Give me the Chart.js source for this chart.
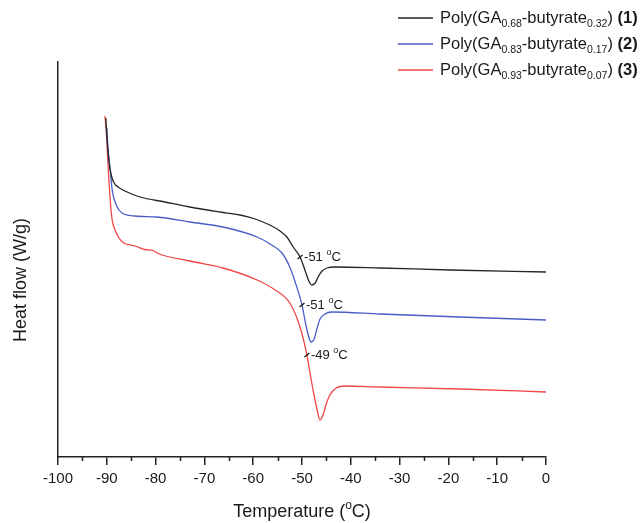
<!DOCTYPE html>
<html>
<head>
<meta charset="utf-8">
<script src="https://cdn.jsdelivr.net/npm/chart.js@4.4.1/dist/chart.umd.min.js"></script>
<style>
body { margin: 0; background: #fff; }
</style>
</head>
<body>
<canvas id="dscChart" width="640" height="523"></canvas>
<script>
const FONT = "'Liberation Sans', Arial, sans-serif";

// DSC traces (temperature in °C, heat flow in arbitrary units, endo down)
const temp1 = [-90.2, -90.0, -89.6, -89.1, -88.5, -87.7, -86.3, -83.2, -78.1, -73.0, -66.8, -62.7, -59.6, -56.6, -54.5, -53.1, -51.8, -50.4, -49.4, -48.6, -48.0, -47.3, -46.7, -45.9, -44.9, -43.2, -34.0, -19.7, 0];
const flow1 = [339, 322, 297, 282, 274, 270, 266, 260, 255, 250, 245, 242, 238, 232, 226, 220, 210, 200, 187, 176, 172, 174, 180, 186, 189, 190, 189, 187, 185];

const temp2 = [-90.0, -89.8, -89.3, -88.9, -88.3, -87.5, -86.5, -84.2, -79.7, -73.0, -66.2, -59.2, -56.2, -54.1, -52.5, -51.4, -50.0, -49.2, -48.6, -48.2, -47.5, -46.9, -46.3, -45.3, -43.9, -34.0, -17.6, 0];
const flow2 = [329, 312, 287, 267, 255, 247, 243, 241, 240, 235, 230, 220, 212, 204, 190, 175, 152, 132, 120, 115, 118, 129, 138, 143, 145, 143, 140, 137];

const temp3 = [-90.4, -90.2, -90.0, -89.8, -89.3, -88.9, -88.3, -87.5, -86.5, -84.2, -82.2, -81.2, -80.5, -79.7, -73.0, -66.2, -59.2, -55.5, -52.5, -50.4, -49.0, -48.0, -46.9, -46.3, -45.7, -45.1, -44.3, -43.0, -41.2, -34.0, -17.6, 0];
const flow3 = [341, 332, 317, 297, 257, 237, 227, 219, 214, 211, 207.5, 207, 206.5, 204, 196, 189, 177, 167, 154, 130, 102, 74, 47, 37, 42, 52, 62, 69, 71, 70, 68, 65];

const gaFractions = ["0.68", "0.83", "0.93"];
const butyrateFractions = ["0.32", "0.17", "0.07"];
const sampleNumbers = ["1", "2", "3"];
const seriesColors = ["#262626", "#4a5ec6", "#f24646"];

// glass transition onsets marked on each trace
const onsetTemps = [-50.4, -50.0, -49.0];
const onsetFlows = [200, 152, 102];
const onsetLabels = ["-51", "-51", "-49"];

const xMin = -100;
const xMax = 0;
const xStep = 10;
const yMin = 0;
const yMax = 395;

function toPoints(xs, ys) {
    return xs.map((x, i) => ({ x: x, y: ys[i] }));
}

// draws a row of text pieces, each with its own size, weight and shift
function drawRuns(ctx, x, y, runs) {
    let cursor = x;
    runs.forEach(run => {
        ctx.font = `${run.bold ? "bold " : ""}${run.size}px ${FONT}`;
        ctx.fillText(run.text, cursor, y + (run.dy || 0));
        cursor += ctx.measureText(run.text).width;
    });
    return cursor - x;
}

function measureRuns(ctx, runs) {
    let w = 0;
    runs.forEach(run => {
        ctx.font = `${run.bold ? "bold " : ""}${run.size}px ${FONT}`;
        w += ctx.measureText(run.text).width;
    });
    return w;
}

const decorations = {
    id: "decorations",
    afterDraw(chart) {
        const ctx = chart.ctx;
        const xs = chart.scales.x;
        const ys = chart.scales.y;
        const area = chart.chartArea;

        ctx.save();
        ctx.fillStyle = "#1a1a1a";
        ctx.textBaseline = "middle";
        ctx.textAlign = "left";

        // minor ticks
        ctx.strokeStyle = "#222";
        ctx.lineWidth = 1.5;
        for (let v = xMin + xStep / 2; v < xMax; v += xStep) {
            const px = Math.round(xs.getPixelForValue(v)) + 0.5;
            ctx.beginPath();
            ctx.moveTo(px, area.bottom);
            ctx.lineTo(px, area.bottom + 4);
            ctx.stroke();
        }

        // onset markers and labels
        onsetTemps.forEach((t, i) => {
            const px = xs.getPixelForValue(t);
            const py = ys.getPixelForValue(onsetFlows[i]);
            ctx.strokeStyle = "#111";
            ctx.lineWidth = 1.2;
            ctx.beginPath();
            ctx.moveTo(px - 2.5, py + 2);
            ctx.lineTo(px + 2.5, py - 2);
            ctx.stroke();
            drawRuns(ctx, px + 4, py, [
                { text: onsetLabels[i] + " ", size: 13 },
                { text: "o", size: 9, dy: -4 },
                { text: "C", size: 13 },
            ]);
        });

        // legend
        const rowY = [18, 44, 70];
        sampleNumbers.forEach((n, i) => {
            ctx.strokeStyle = seriesColors[i];
            ctx.lineWidth = 1.3;
            ctx.beginPath();
            ctx.moveTo(398, rowY[i]);
            ctx.lineTo(433, rowY[i]);
            ctx.stroke();
            ctx.fillStyle = "#1a1a1a";
            drawRuns(ctx, 440, rowY[i], [
                { text: "Poly(GA", size: 16.5 },
                { text: gaFractions[i], size: 10.5, dy: 6 },
                { text: "-butyrate", size: 16.5 },
                { text: butyrateFractions[i], size: 10.5, dy: 6 },
                { text: ") ", size: 16.5 },
                { text: "(" + n + ")", size: 16.5, bold: true },
            ]);
        });

        // axis titles
        const xTitle = [
            { text: "Temperature (", size: 18 },
            { text: "o", size: 12, dy: -6 },
            { text: "C)", size: 18 },
        ];
        const w = measureRuns(ctx, xTitle);
        drawRuns(ctx, 302 - w / 2, 512, xTitle);

        ctx.translate(21, 280);
        ctx.rotate(-Math.PI / 2);
        ctx.textAlign = "center";
        ctx.font = `18px ${FONT}`;
        ctx.fillText("Heat flow (W/g)", 0, 0);

        ctx.restore();
    },
};

const datasets = [
    [temp1, flow1],
    [temp2, flow2],
    [temp3, flow3],
].map((pair, i) => ({
    data: toPoints(pair[0], pair[1]),
    borderColor: seriesColors[i],
    borderWidth: 1.3,
    pointRadius: 0,
    cubicInterpolationMode: "monotone",
    fill: false,
}));

new Chart(document.getElementById("dscChart"), {
    type: "line",
    data: { datasets: datasets },
    options: {
        responsive: false,
        animation: false,
        devicePixelRatio: 1,
        layout: { padding: { top: 62, right: 94, bottom: 0, left: 0 } },
        plugins: {
            legend: { display: false },
            tooltip: { enabled: false },
        },
        scales: {
            x: {
                type: "linear",
                min: xMin,
                max: xMax,
                ticks: {
                    stepSize: xStep,
                    color: "#1a1a1a",
                    font: { family: FONT, size: 15 },
                    padding: 5,
                    maxRotation: 0,
                },
                grid: {
                    display: true,
                    drawOnChartArea: false,
                    drawTicks: true,
                    tickLength: 8,
                    color: "#222",
                    lineWidth: 1.5,
                },
                border: { display: true, color: "#222", width: 1.5 },
                afterFit(scale) { scale.height = 66; },
            },
            y: {
                type: "linear",
                min: yMin,
                max: yMax,
                ticks: { display: false },
                grid: { display: false },
                border: { display: true, color: "#222", width: 1.5 },
                afterFit(scale) { scale.width = 58; },
            },
        },
    },
    plugins: [decorations],
});
</script>
</body>
</html>
